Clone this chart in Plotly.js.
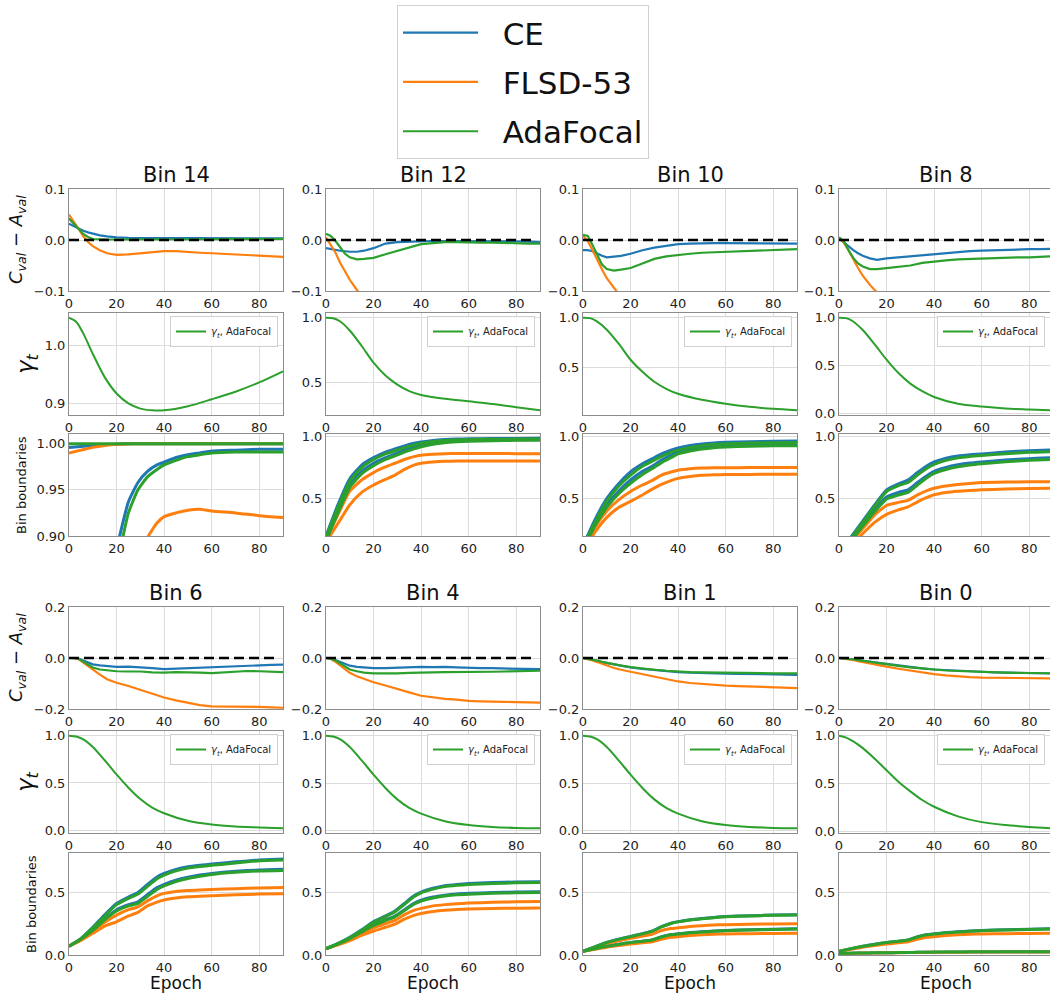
<!DOCTYPE html>
<html><head><meta charset="utf-8">
<script src="https://cdn.plot.ly/plotly-3.0.1.min.js"></script>
<style>html,body{margin:0;padding:0;background:#fff;}#chart{width:1050px;height:994px;}</style>
</head><body><div id="chart"></div>
<script>
// ---------------- DATA ----------------
const BINS = ['Bin 14','Bin 12','Bin 10','Bin 8','Bin 6','Bin 4','Bin 1','Bin 0'];
const X_TICKS = [0,20,40,60,80];
const EPOCH_CA = [0,2,4,6,8,10,13,16,20,25,30,35,40,45,50,55,60,65,70,75,80,85,90];
const EPOCH_GAMMA = [0,3,6,10,15,20,25,30,35,40,50,60,70,80,90];
const EPOCH_BND = [0,5,10,15,20,25,29,33,37,40,45,50,55,60,70,80,90];
const ZERO_X = [0, 87];
const ZERO_Y = [0, 0];
const N = null;

// C_val - A_val
const ca14_ce  = [0.032,0.027,0.022,0.018,0.015,0.012,0.009,0.007,0.005,0.004,0.004,0.004,0.004,0.004,0.004,0.003,0.003,0.003,0.003,0.003,0.003,0.003,0.003];
const ca14_fl  = [0.050,0.037,0.022,0.007,-0.004,-0.012,-0.020,-0.026,-0.029,-0.028,-0.026,-0.023,-0.022,-0.022,-0.024,-0.025,-0.026,-0.027,-0.028,-0.030,-0.031,-0.032,-0.033];
const ca14_ada = [0.042,0.033,0.022,0.012,0.006,0.002,0.001,0.001,0.001,0.001,0.001,0.001,0.001,0.001,0.001,0.001,0.001,0.001,0.002,0.002,0.002,0.002,0.002];

const ca12_ce  = [-0.016,-0.018,-0.020,-0.021,-0.022,-0.023,-0.023,-0.021,-0.016,-0.007,-0.004,-0.003,-0.002,-0.002,-0.002,-0.002,-0.002,-0.002,-0.002,-0.003,-0.003,-0.003,-0.004];
const ca12_fl  = [0.005,-0.010,-0.025,-0.045,-0.062,-0.078,-0.098,-0.115,N,N,N,N,N,N,N,N,N,N,N,N,N,N,N];
const ca12_ada = [0.012,0.008,-0.002,-0.015,-0.027,-0.034,-0.038,-0.037,-0.035,-0.028,-0.021,-0.014,-0.008,-0.006,-0.004,-0.004,-0.005,-0.005,-0.005,-0.006,-0.006,-0.007,-0.007];

const ca10_ce  = [-0.020,-0.020,-0.022,-0.027,-0.031,-0.034,-0.033,-0.031,-0.027,-0.020,-0.015,-0.011,-0.008,-0.007,-0.006,-0.006,-0.006,-0.006,-0.006,-0.006,-0.007,-0.007,-0.007];
const ca10_fl  = [0.008,-0.002,-0.020,-0.040,-0.058,-0.075,-0.095,-0.112,N,N,N,N,N,N,N,N,N,N,N,N,N,N,N];
const ca10_ada = [0.010,0.008,-0.010,-0.030,-0.048,-0.057,-0.060,-0.058,-0.055,-0.046,-0.037,-0.032,-0.029,-0.027,-0.025,-0.024,-0.023,-0.022,-0.021,-0.020,-0.020,-0.019,-0.018];

const ca8_ce  = [0.003,-0.005,-0.012,-0.020,-0.026,-0.031,-0.036,-0.039,-0.036,-0.034,-0.031,-0.029,-0.027,-0.025,-0.023,-0.022,-0.021,-0.020,-0.020,-0.019,-0.018,-0.018,-0.017];
const ca8_fl  = [0.005,-0.005,-0.020,-0.038,-0.055,-0.070,-0.088,-0.103,-0.125,N,N,N,N,N,N,N,N,N,N,N,N,N,N];
const ca8_ada = [0.005,-0.002,-0.020,-0.035,-0.046,-0.052,-0.057,-0.057,-0.055,-0.053,-0.050,-0.045,-0.042,-0.040,-0.038,-0.037,-0.037,-0.036,-0.035,-0.034,-0.034,-0.033,-0.032];

const ca6_ce  = [0,0,-0.002,-0.010,-0.018,-0.025,-0.029,-0.032,-0.035,-0.034,-0.036,-0.040,-0.044,-0.042,-0.040,-0.038,-0.035,-0.034,-0.031,-0.030,-0.028,-0.027,-0.026];
const ca6_fl  = [0,0,-0.004,-0.018,-0.032,-0.047,-0.065,-0.083,-0.097,-0.110,-0.126,-0.142,-0.155,-0.166,-0.176,-0.185,-0.190,-0.190,-0.190,-0.191,-0.192,-0.194,-0.195];
const ca6_ada = [0,0,-0.003,-0.014,-0.026,-0.037,-0.045,-0.049,-0.052,-0.053,-0.053,-0.056,-0.057,-0.055,-0.055,-0.057,-0.059,-0.056,-0.052,-0.051,-0.052,-0.054,-0.055];

const ca4_ce  = [0,-0.002,-0.008,-0.016,-0.024,-0.030,-0.035,-0.038,-0.040,-0.040,-0.038,-0.036,-0.035,-0.036,-0.035,-0.037,-0.039,-0.040,-0.040,-0.041,-0.042,-0.043,-0.044];
const ca4_fl  = [0,-0.004,-0.015,-0.030,-0.045,-0.058,-0.072,-0.083,-0.095,-0.108,-0.120,-0.135,-0.148,-0.155,-0.160,-0.163,-0.168,-0.170,-0.170,-0.172,-0.173,-0.174,-0.175];
const ca4_ada = [0,-0.003,-0.010,-0.022,-0.035,-0.045,-0.052,-0.057,-0.060,-0.061,-0.060,-0.058,-0.056,-0.056,-0.055,-0.055,-0.056,-0.055,-0.054,-0.053,-0.052,-0.051,-0.050];

const ca1_ce  = [0,-0.003,-0.007,-0.011,-0.016,-0.020,-0.026,-0.031,-0.037,-0.043,-0.048,-0.052,-0.055,-0.057,-0.059,-0.060,-0.061,-0.062,-0.063,-0.064,-0.065,-0.065,-0.066];
const ca1_fl  = [0,-0.004,-0.010,-0.016,-0.023,-0.030,-0.039,-0.046,-0.054,-0.065,-0.075,-0.084,-0.092,-0.098,-0.102,-0.105,-0.108,-0.110,-0.112,-0.114,-0.116,-0.117,-0.118];
const ca1_ada = [0,-0.003,-0.006,-0.010,-0.015,-0.019,-0.025,-0.030,-0.036,-0.042,-0.046,-0.050,-0.053,-0.055,-0.056,-0.057,-0.058,-0.059,-0.059,-0.060,-0.060,-0.060,-0.060];

const ca0_ce  = [0,-0.001,-0.003,-0.005,-0.008,-0.010,-0.014,-0.018,-0.023,-0.030,-0.036,-0.041,-0.045,-0.048,-0.050,-0.052,-0.054,-0.056,-0.057,-0.058,-0.059,-0.060,-0.061];
const ca0_fl  = [0,-0.002,-0.005,-0.008,-0.012,-0.016,-0.021,-0.027,-0.034,-0.042,-0.050,-0.057,-0.063,-0.068,-0.072,-0.075,-0.077,-0.078,-0.079,-0.079,-0.080,-0.080,-0.080];
const ca0_ada = [0,-0.001,-0.003,-0.005,-0.008,-0.011,-0.015,-0.019,-0.024,-0.031,-0.037,-0.042,-0.046,-0.049,-0.051,-0.053,-0.055,-0.056,-0.057,-0.058,-0.058,-0.059,-0.060];

// gamma_t (AdaFocal)
const g14 = [1.047,1.040,1.020,0.985,0.945,0.917,0.900,0.891,0.888,0.888,0.895,0.907,0.920,0.936,0.955];
const g12 = [1.0,0.995,0.97,0.90,0.78,0.65,0.55,0.48,0.43,0.40,0.37,0.35,0.33,0.305,0.28];
const g10 = [1.0,0.995,0.96,0.88,0.74,0.58,0.46,0.36,0.29,0.24,0.18,0.14,0.11,0.09,0.075];
const g8  = [1.0,0.995,0.96,0.87,0.72,0.56,0.42,0.31,0.23,0.17,0.10,0.07,0.05,0.04,0.03];
const g6  = [1.0,0.99,0.96,0.88,0.74,0.59,0.45,0.33,0.24,0.18,0.10,0.06,0.04,0.03,0.02];
const g4  = [1.0,0.99,0.96,0.88,0.74,0.59,0.45,0.33,0.24,0.18,0.10,0.06,0.04,0.03,0.025];
const g1  = [1.0,0.99,0.96,0.88,0.74,0.59,0.45,0.33,0.24,0.18,0.10,0.06,0.04,0.03,0.025];
const g0  = [1.0,0.98,0.94,0.87,0.76,0.64,0.52,0.42,0.33,0.26,0.16,0.10,0.07,0.05,0.035];

// Bin boundaries (lower / upper edge of the bin)
const b14_ce_lo  = [N,N,N,0.80,0.885,0.937,0.958,0.970,0.977,0.980,0.985,0.988,0.990,0.992,0.993,0.994,0.994];
const b14_ce_hi  = [0.996,0.997,0.998,0.999,0.9995,1,1,1,1,1,1,1,1,1,1,1,1];
const b14_fl_lo  = [N,N,N,N,N,N,0.86,0.898,0.914,0.921,0.925,0.928,0.929,0.927,0.925,0.922,0.920];
const b14_fl_hi  = [0.990,0.993,0.996,0.998,0.9993,0.9998,1,1,1,1,1,1,1,1,1,1,1];
const b14_ada_lo = [N,N,N,0.78,0.865,0.925,0.950,0.964,0.972,0.977,0.982,0.986,0.988,0.990,0.991,0.991,0.991];
const b14_ada_hi = [1,1,1,1,1,1,1,1,1,1,1,1,1,1,1,1,1];

const b12_ce_lo  = [0.17,0.40,0.61,0.72,0.785,0.83,0.86,0.89,0.915,0.93,0.948,0.958,0.964,0.968,0.972,0.974,0.975];
const b12_ce_hi  = [0.20,0.45,0.66,0.77,0.83,0.875,0.90,0.925,0.945,0.955,0.968,0.975,0.979,0.981,0.983,0.984,0.985];
const b12_fl_lo  = [0.15,0.30,0.45,0.55,0.61,0.655,0.69,0.735,0.77,0.785,0.795,0.80,0.802,0.802,0.802,0.802,0.802];
const b12_fl_hi  = [0.17,0.37,0.56,0.65,0.71,0.755,0.785,0.815,0.838,0.85,0.858,0.862,0.864,0.864,0.863,0.862,0.862];
const b12_ada_lo = [0.16,0.385,0.59,0.70,0.765,0.815,0.845,0.875,0.90,0.918,0.938,0.95,0.957,0.962,0.966,0.969,0.97];
const b12_ada_hi = [0.19,0.43,0.64,0.75,0.815,0.86,0.885,0.91,0.932,0.945,0.96,0.968,0.973,0.976,0.978,0.979,0.98];

const b10_ce_lo  = [0.10,0.29,0.45,0.56,0.65,0.72,0.76,0.81,0.85,0.874,0.898,0.912,0.921,0.927,0.932,0.935,0.936];
const b10_ce_hi  = [0.12,0.33,0.50,0.62,0.715,0.78,0.82,0.86,0.89,0.908,0.928,0.94,0.948,0.953,0.958,0.961,0.963];
const b10_fl_lo  = [0.07,0.23,0.35,0.43,0.479,0.53,0.575,0.615,0.645,0.663,0.678,0.688,0.692,0.694,0.695,0.696,0.696];
const b10_fl_hi  = [0.09,0.27,0.40,0.49,0.558,0.61,0.645,0.69,0.715,0.729,0.74,0.746,0.748,0.749,0.75,0.75,0.75];
const b10_ada_lo = [0.09,0.28,0.43,0.54,0.624,0.695,0.74,0.79,0.83,0.86,0.884,0.90,0.91,0.916,0.922,0.925,0.926];
const b10_ada_hi = [0.11,0.31,0.48,0.60,0.69,0.76,0.80,0.84,0.873,0.89,0.912,0.926,0.935,0.941,0.947,0.95,0.952];

const b8_ce_lo  = [0.06,0.17,0.29,0.41,0.513,0.55,0.571,0.63,0.685,0.72,0.752,0.772,0.786,0.795,0.81,0.822,0.829];
const b8_ce_hi  = [0.08,0.19,0.32,0.45,0.571,0.62,0.65,0.71,0.765,0.795,0.825,0.843,0.853,0.86,0.875,0.886,0.892];
const b8_fl_lo  = [0.04,0.12,0.22,0.31,0.374,0.41,0.434,0.475,0.51,0.532,0.55,0.56,0.566,0.571,0.577,0.582,0.584];
const b8_fl_hi  = [0.05,0.15,0.26,0.37,0.445,0.47,0.487,0.53,0.565,0.584,0.602,0.614,0.622,0.63,0.634,0.636,0.637];
const b8_ada_lo = [0.05,0.16,0.28,0.395,0.497,0.53,0.55,0.61,0.668,0.703,0.735,0.756,0.77,0.78,0.796,0.808,0.816];
const b8_ada_hi = [0.07,0.18,0.31,0.44,0.558,0.605,0.63,0.69,0.745,0.776,0.808,0.828,0.84,0.847,0.862,0.873,0.879];

const b6_ce_lo  = [0.07,0.125,0.20,0.285,0.36,0.40,0.423,0.48,0.535,0.561,0.595,0.618,0.635,0.648,0.665,0.675,0.68];
const b6_ce_hi  = [0.07,0.13,0.22,0.32,0.41,0.46,0.497,0.56,0.62,0.648,0.68,0.70,0.712,0.722,0.74,0.755,0.762];
const b6_fl_lo  = [0.07,0.115,0.172,0.23,0.264,0.31,0.339,0.39,0.42,0.437,0.452,0.462,0.467,0.47,0.478,0.484,0.487];
const b6_fl_hi  = [0.07,0.12,0.19,0.26,0.317,0.36,0.383,0.43,0.47,0.489,0.505,0.513,0.517,0.52,0.527,0.533,0.537];
const b6_ada_lo = [0.07,0.125,0.195,0.28,0.35,0.39,0.41,0.465,0.52,0.548,0.583,0.607,0.625,0.64,0.657,0.668,0.672];
const b6_ada_hi = [0.07,0.13,0.215,0.31,0.40,0.45,0.484,0.545,0.605,0.635,0.668,0.69,0.702,0.712,0.73,0.748,0.754];

const b4_ce_lo  = [0.05,0.088,0.132,0.185,0.24,0.28,0.31,0.36,0.41,0.435,0.46,0.475,0.485,0.49,0.496,0.50,0.502];
const b4_ce_hi  = [0.05,0.09,0.14,0.20,0.265,0.31,0.35,0.41,0.47,0.50,0.53,0.55,0.56,0.567,0.575,0.58,0.582];
const b4_fl_lo  = [0.05,0.08,0.115,0.155,0.19,0.22,0.245,0.285,0.315,0.33,0.345,0.355,0.361,0.365,0.37,0.372,0.374];
const b4_fl_hi  = [0.05,0.085,0.125,0.17,0.215,0.25,0.275,0.32,0.355,0.37,0.39,0.40,0.407,0.412,0.418,0.422,0.424];
const b4_ada_lo = [0.05,0.087,0.13,0.182,0.235,0.274,0.303,0.353,0.403,0.428,0.453,0.468,0.478,0.483,0.49,0.494,0.496];
const b4_ada_hi = [0.05,0.09,0.138,0.197,0.26,0.305,0.344,0.403,0.463,0.493,0.523,0.543,0.553,0.56,0.568,0.573,0.575];

const b1_ce_lo  = [0.03,0.05,0.07,0.085,0.10,0.11,0.12,0.145,0.162,0.168,0.178,0.185,0.19,0.195,0.20,0.205,0.208];
const b1_ce_hi  = [0.03,0.065,0.10,0.125,0.148,0.17,0.19,0.225,0.252,0.265,0.28,0.29,0.298,0.305,0.312,0.317,0.32];
const b1_fl_lo  = [0.03,0.045,0.062,0.075,0.087,0.097,0.105,0.125,0.14,0.145,0.155,0.161,0.165,0.167,0.169,0.171,0.172];
const b1_fl_hi  = [0.03,0.06,0.09,0.112,0.132,0.15,0.165,0.195,0.21,0.216,0.226,0.233,0.238,0.241,0.245,0.247,0.248];
const b1_ada_lo = [0.03,0.049,0.069,0.084,0.099,0.109,0.119,0.143,0.16,0.166,0.176,0.183,0.188,0.193,0.198,0.203,0.206];
const b1_ada_hi = [0.03,0.064,0.099,0.124,0.146,0.168,0.188,0.223,0.25,0.263,0.278,0.288,0.296,0.303,0.31,0.315,0.318];

const b0_ce_lo  = [0.012,0.014,0.016,0.017,0.018,0.019,0.020,0.021,0.022,0.022,0.023,0.023,0.024,0.024,0.025,0.025,0.025];
const b0_ce_hi  = [0.03,0.05,0.07,0.085,0.10,0.11,0.12,0.145,0.162,0.168,0.178,0.185,0.19,0.195,0.20,0.205,0.208];
const b0_fl_lo  = [0.012,0.013,0.015,0.016,0.017,0.018,0.019,0.020,0.021,0.021,0.022,0.022,0.023,0.023,0.024,0.024,0.024];
const b0_fl_hi  = [0.03,0.045,0.062,0.075,0.087,0.097,0.105,0.125,0.14,0.145,0.155,0.161,0.165,0.167,0.169,0.171,0.172];
const b0_ada_lo = [0.012,0.014,0.016,0.017,0.018,0.019,0.020,0.021,0.022,0.023,0.024,0.024,0.025,0.025,0.026,0.026,0.026];
const b0_ada_hi = [0.03,0.049,0.069,0.084,0.099,0.109,0.119,0.143,0.16,0.166,0.176,0.183,0.188,0.193,0.198,0.203,0.206];

const CA = {
  ce:  [ca14_ce, ca12_ce, ca10_ce, ca8_ce, ca6_ce, ca4_ce, ca1_ce, ca0_ce],
  fl:  [ca14_fl, ca12_fl, ca10_fl, ca8_fl, ca6_fl, ca4_fl, ca1_fl, ca0_fl],
  ada: [ca14_ada, ca12_ada, ca10_ada, ca8_ada, ca6_ada, ca4_ada, ca1_ada, ca0_ada]
};
const GAMMA = [g14, g12, g10, g8, g6, g4, g1, g0];
const BND = {
  ce:  [[b14_ce_lo,b14_ce_hi],[b12_ce_lo,b12_ce_hi],[b10_ce_lo,b10_ce_hi],[b8_ce_lo,b8_ce_hi],[b6_ce_lo,b6_ce_hi],[b4_ce_lo,b4_ce_hi],[b1_ce_lo,b1_ce_hi],[b0_ce_lo,b0_ce_hi]],
  fl:  [[b14_fl_lo,b14_fl_hi],[b12_fl_lo,b12_fl_hi],[b10_fl_lo,b10_fl_hi],[b8_fl_lo,b8_fl_hi],[b6_fl_lo,b6_fl_hi],[b4_fl_lo,b4_fl_hi],[b1_fl_lo,b1_fl_hi],[b0_fl_lo,b0_fl_hi]],
  ada: [[b14_ada_lo,b14_ada_hi],[b12_ada_lo,b12_ada_hi],[b10_ada_lo,b10_ada_hi],[b8_ada_lo,b8_ada_hi],[b6_ada_lo,b6_ada_hi],[b4_ada_lo,b4_ada_hi],[b1_ada_lo,b1_ada_hi],[b0_ada_lo,b0_ada_hi]]
};

// ---------------- STYLE / LAYOUT ----------------
const W = 1050, H = 994;
const FONT = 'DejaVu Sans, sans-serif';
const COLORS = {ce:'#1f77b4', fl:'#ff7f0e', ada:'#2ca02c'};
const NAMES = {ce:'CE', fl:'FLSD-53', ada:'AdaFocal'};
const LEGEND_PAD = '\u00a0\u00a0';
const METHODS = ['ce','fl','ada'];
const COL_LEFT = [69, 326, 583, 839];
const PLOT_W = 214;
const ROW_TOP = [189, 313, 434, 607, 731, 853];
const ROW_H = 102;
const X_FULL = 90;
const GRID = '#dcdcdc', SPINE = '#8c8c8c';

const px = v => v / W;
const py = v => 1 - v / H;

const traces = [];
const layout = {
  width: W, height: H,
  margin: {l:0, r:0, t:0, b:0},
  paper_bgcolor: '#fff', plot_bgcolor: '#fff',
  font: {family: FONT, color: '#222'},
  showlegend: true,
  annotations: [],
  legend: {
    x: px(397), y: py(5), xanchor: 'left', yanchor: 'top',
    font: {family: FONT, size: 31, color: '#111'},
    bordercolor: '#d0d0d0', borderwidth: 1, bgcolor: '#fff',
    itemwidth: 75, tracegroupgap: 6, traceorder: 'grouped'
  }
};

function axId(idx) { return idx === 1 ? '' : String(idx); }

for (let r = 0; r < 6; r++) {
  const g = Math.floor(r / 3), kind = r % 3;
  for (let c = 0; c < 4; c++) {
    const idx = r * 4 + c + 1, id = axId(idx), k = g * 4 + c;
    const xa = 'x' + id, ya = 'y' + id;
    const left = COL_LEFT[c];
    const right = Math.min(left + PLOT_W, W);
    const xmax = X_FULL * (right - left) / PLOT_W;
    const top = ROW_TOP[r];

    layout['xaxis' + id] = {
      domain: [px(left), px(right)], range: [0, xmax], anchor: ya,
      tickvals: X_TICKS, ticks: '', showgrid: true, gridcolor: GRID, gridwidth: 1,
      zeroline: false, showline: true, mirror: true, linecolor: SPINE, linewidth: 1,
      tickfont: {family: FONT, size: 13, color: '#222'}, fixedrange: true
    };
    const yax = {
      domain: [py(top + ROW_H), py(top)], anchor: xa, ticks: '',
      showgrid: true, gridcolor: GRID, gridwidth: 1, zeroline: false,
      showline: true, mirror: true, linecolor: SPINE, linewidth: 1,
      tickfont: {family: FONT, size: 13, color: '#222'}, fixedrange: true
    };

    if (kind === 0) {
      const lim = g === 0 ? 0.1 : 0.2;
      yax.range = [-lim, lim]; yax.tickvals = [-lim, 0, lim]; yax.tickformat = '.1f';
      METHODS.forEach(m => {
        traces.push({
          type: 'scatter', mode: 'lines', x: EPOCH_CA, y: CA[m][k], xaxis: xa, yaxis: ya,
          name: LEGEND_PAD + NAMES[m], legendgroup: m, showlegend: k === 0,
          line: {color: COLORS[m], width: 2.2}, hoverinfo: 'skip'
        });
      });
      traces.push({
        type: 'scatter', mode: 'lines', x: ZERO_X, y: ZERO_Y, xaxis: xa, yaxis: ya,
        showlegend: false, line: {color: '#000', width: 2.6, dash: '10px,5px'}, hoverinfo: 'skip'
      });
    } else if (kind === 1) {
      const d = GAMMA[k];
      const lo = Math.min(...d), hi = Math.max(...d), pad = 0.05 * (hi - lo);
      yax.range = [lo - pad, hi + pad];
      yax.dtick = (k === 0) ? 0.1 : 0.5; yax.tick0 = 0; yax.tickformat = '.1f';
      const lg = 'legend' + (k + 2);
      traces.push({
        type: 'scatter', mode: 'lines', x: EPOCH_GAMMA, y: d, xaxis: xa, yaxis: ya,
        name: '<i>γ</i><sub><i>t</i></sub>, AdaFocal', legend: lg, showlegend: true,
        line: {color: COLORS.ada, width: 2, shape: 'spline', smoothing: 0.8}, hoverinfo: 'skip'
      });
      layout[lg] = {
        x: px(right - 5), y: py(top + 3), xanchor: 'right', yanchor: 'top',
        font: {family: FONT, size: 10, color: '#222'}, bordercolor: '#d0d0d0', borderwidth: 1,
        bgcolor: 'rgba(255,255,255,0.85)', itemwidth: 30
      };
    } else {
      if (g === 0 && c === 0) { yax.range = [0.9, 1.0105]; yax.tickvals = [0.9, 0.95, 1.0]; yax.tickformat = '.2f'; }
      else if (g === 0) { yax.range = [0.2, 1.02]; yax.tickvals = [0.5, 1.0]; yax.tickformat = '.1f'; }
      else { yax.range = [0, 0.81]; yax.tickvals = [0, 0.5]; yax.tickformat = '.1f'; }
      METHODS.forEach(m => {
        BND[m][k].forEach(series => {
          traces.push({
            type: 'scatter', mode: 'lines', x: EPOCH_BND, y: series, xaxis: xa, yaxis: ya,
            showlegend: false, legendgroup: m,
            line: {color: COLORS[m], width: 3, shape: 'spline', smoothing: 0.5}, hoverinfo: 'skip'
          });
        });
      });
    }
    layout['yaxis' + id] = yax;

    if (kind === 0) {
      layout.annotations.push({
        text: BINS[k], xref: 'paper', yref: 'paper', x: px(left + PLOT_W / 2), y: py(top),
        xanchor: 'center', yanchor: 'bottom', yshift: 0, showarrow: false,
        font: {family: FONT, size: 21, color: '#111'}
      });
    }
    if (r === 5) {
      layout.annotations.push({
        text: 'Epoch', xref: 'paper', yref: 'paper', x: px(left + PLOT_W / 2), y: py(983),
        xanchor: 'center', yanchor: 'middle', showarrow: false,
        font: {family: FONT, size: 17, color: '#111'}
      });
    }
    if (c === 0) {
      let txt, size, cx;
      if (kind === 0) { txt = '<i>C</i><sub><i>val</i></sub> − <i>A</i><sub><i>val</i></sub>'; size = 18; cx = 17; }
      else if (kind === 1) { txt = '<i>γ</i><sub><i>t</i></sub>'; size = 23; cx = 27; }
      else { txt = 'Bin boundaries'; size = 13; cx = (g === 0) ? 22 : 31; }
      layout.annotations.push({
        text: txt, xref: 'paper', yref: 'paper', x: px(cx), y: py(top + ROW_H / 2),
        xanchor: 'center', yanchor: 'middle', textangle: -90, showarrow: false,
        font: {family: FONT, size: size, color: '#111'}
      });
    }
  }
}

Plotly.newPlot('chart', traces, layout, {displayModeBar: false, staticPlot: true});
</script></body></html>
